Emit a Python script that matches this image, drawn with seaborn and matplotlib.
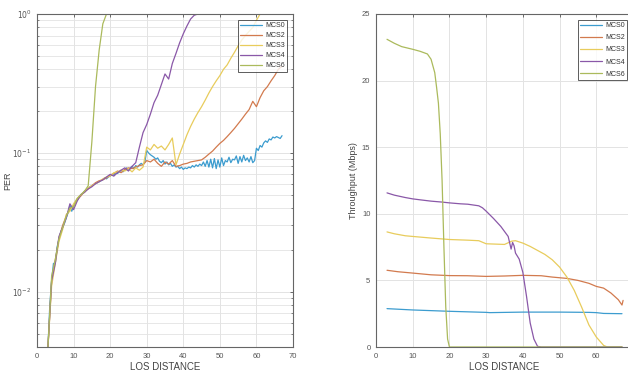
import numpy as np
import pandas as pd
import matplotlib
matplotlib.use("Agg")
import matplotlib.pyplot as plt
import seaborn as sns
from matplotlib.ticker import LogLocator, NullFormatter, FixedLocator

# ---------------- data ----------------
labels = ["MCS0", "MCS2", "MCS3", "MCS4", "MCS6"]
colors = ["#3c9ccf", "#d27a4e", "#e8cc5c", "#8a58a8", "#abba5c"]

# PER (left), MCS0 sampled every 0.5 from 3
per_mcs0 = [0.004, 0.008, 0.012, 0.016, 0.016, 0.021, 0.024, 0.027, 0.029, 0.031,
            0.034, 0.037, 0.042, 0.038, 0.041, 0.044, 0.046, 0.048, 0.050, 0.051,
            0.053, 0.054, 0.056, 0.057, 0.058, 0.059, 0.060, 0.061, 0.062, 0.063,
            0.064, 0.066, 0.065, 0.067, 0.068, 0.070, 0.069, 0.072, 0.071, 0.073,
            0.075, 0.073, 0.076, 0.078, 0.075, 0.078, 0.080, 0.077, 0.081, 0.079,
            0.082, 0.084, 0.082, 0.086, 0.104, 0.100, 0.097, 0.095, 0.093, 0.090,
            0.092, 0.087, 0.085, 0.088, 0.083, 0.086, 0.082, 0.084, 0.080, 0.082,
            0.079, 0.080, 0.077, 0.079, 0.076, 0.078, 0.077, 0.079, 0.078, 0.081,
            0.079, 0.082, 0.080, 0.083, 0.081, 0.086, 0.080, 0.088, 0.079, 0.090,
            0.078, 0.091, 0.077, 0.089, 0.079, 0.092, 0.081, 0.088, 0.086, 0.093,
            0.085, 0.090, 0.089, 0.095, 0.084, 0.094, 0.086, 0.096, 0.088, 0.092,
            0.086, 0.094, 0.085, 0.088, 0.108, 0.104, 0.113, 0.110, 0.118, 0.122,
            0.119, 0.126, 0.124, 0.130, 0.128, 0.131, 0.129, 0.127, 0.133]
# other PER series sampled every 1 from 3 to 67
per_mcs2 = [0.004, 0.012, 0.017, 0.024, 0.030, 0.035, 0.040, 0.041, 0.046, 0.049,
            0.053, 0.055, 0.058, 0.061, 0.063, 0.064, 0.066, 0.069, 0.071, 0.074,
            0.072, 0.076, 0.078, 0.077, 0.079, 0.081, 0.082, 0.088, 0.086, 0.090,
            0.084, 0.080, 0.086, 0.083, 0.088, 0.080, 0.081, 0.083, 0.084, 0.086,
            0.087, 0.088, 0.089, 0.093, 0.098, 0.103, 0.110, 0.117, 0.123, 0.131,
            0.140, 0.150, 0.162, 0.175, 0.190, 0.205, 0.235, 0.215, 0.250, 0.280,
            0.300, 0.330, 0.360, 0.400, 0.420]
per_mcs3 = [0.004, 0.011, 0.016, 0.023, 0.028, 0.036, 0.038, 0.043, 0.047, 0.050,
            0.052, 0.056, 0.058, 0.060, 0.062, 0.065, 0.067, 0.068, 0.072, 0.073,
            0.075, 0.074, 0.077, 0.073, 0.078, 0.075, 0.079, 0.110, 0.105, 0.115,
            0.108, 0.112, 0.105, 0.115, 0.128, 0.082, 0.098, 0.115, 0.135, 0.155,
            0.175, 0.195, 0.215, 0.240, 0.270, 0.300, 0.330, 0.360, 0.400, 0.430,
            0.480, 0.530, 0.590, 0.650, 0.700, 0.750, 0.800, 0.900, 1.0, 1.0,
            1.0, 1.0, 1.0, 1.0, 1.0]
per_mcs4 = [0.004, 0.012, 0.016, 0.025, 0.029, 0.034, 0.043, 0.039, 0.045, 0.050,
            0.052, 0.055, 0.057, 0.060, 0.062, 0.064, 0.067, 0.070, 0.068, 0.072,
            0.075, 0.078, 0.074, 0.080, 0.085, 0.110, 0.140, 0.160, 0.190, 0.230,
            0.260, 0.310, 0.370, 0.340, 0.440, 0.520, 0.620, 0.720, 0.820, 0.920,
            0.980, 1.0, 1.0, 1.0, 1.0, 1.0, 1.0, 1.0, 1.0, 1.0,
            1.0, 1.0, 1.0, 1.0, 1.0, 1.0, 1.0, 1.0, 1.0, 1.0,
            1.0, 1.0, 1.0, 1.0, 1.0]
per_mcs6 = [0.004, 0.013, 0.017, 0.024, 0.029, 0.035, 0.040, 0.041, 0.047, 0.050,
            0.053, 0.058, 0.120, 0.300, 0.550, 0.850, 1.0, 1.0, 1.0, 1.0,
            1.0, 1.0, 1.0, 1.0, 1.0, 1.0, 1.0, 1.0, 1.0, 1.0,
            1.0, 1.0, 1.0, 1.0, 1.0, 1.0, 1.0, 1.0, 1.0, 1.0,
            1.0, 1.0, 1.0, 1.0, 1.0, 1.0, 1.0, 1.0, 1.0, 1.0,
            1.0, 1.0, 1.0, 1.0, 1.0, 1.0, 1.0, 1.0, 1.0, 1.0,
            1.0, 1.0, 1.0, 1.0, 1.0]

# Throughput (right)
thr_x_mcs0 = [3, 10, 20, 30, 31, 40, 50, 58, 60, 62, 67]
thr_mcs0 = [2.88, 2.78, 2.68, 2.60, 2.58, 2.62, 2.62, 2.60, 2.58, 2.52, 2.50]
thr_x_mcs2 = [3, 6, 10, 15, 20, 25, 30, 35, 40, 45, 48, 52, 55, 58, 60, 62, 64, 66, 67, 67.3]
thr_mcs2 = [5.76, 5.65, 5.55, 5.42, 5.36, 5.35, 5.30, 5.33, 5.38, 5.35, 5.25, 5.15,
            5.00, 4.78, 4.55, 4.42, 4.05, 3.55, 3.15, 3.50]
thr_x_mcs3 = [3, 5, 8, 10, 15, 20, 25, 28, 30, 33, 35, 37, 38, 40, 42, 44, 46, 48,
              50, 52, 54, 56, 58, 60, 62, 63, 67]
thr_mcs3 = [8.64, 8.50, 8.35, 8.30, 8.18, 8.07, 8.02, 7.98, 7.75, 7.72, 7.70, 7.95,
            7.98, 7.80, 7.55, 7.25, 6.95, 6.55, 6.00, 5.25, 4.25, 3.00, 1.65, 0.75,
            0.12, 0.0, 0.0]
thr_x_mcs4 = [3, 5, 8, 10, 12, 15, 18, 20, 23, 25, 28, 29, 30, 32, 34, 36, 36.8,
              37.2, 37.6, 38, 39, 40, 41, 42, 43, 44, 45, 67]
thr_mcs4 = [11.57, 11.40, 11.22, 11.12, 11.05, 10.95, 10.88, 10.82, 10.75, 10.72,
            10.60, 10.45, 10.20, 9.65, 9.05, 8.30, 7.35, 7.85, 7.60, 7.05, 6.60,
            5.60, 3.80, 1.80, 0.60, 0.05, 0.0, 0.0]
thr_x_mcs6 = [3, 5, 7, 10, 12, 14, 15, 16, 16.5, 17, 17.5, 18, 18.5, 19, 19.5, 20, 67]
thr_mcs6 = [23.1, 22.8, 22.55, 22.35, 22.2, 22.0, 21.6, 20.6, 19.5, 18.3, 16.0,
            12.5, 7.5, 3.0, 0.6, 0.0, 0.0]

x_ticks = [0, 10, 20, 30, 40, 50, 60, 70]
x_ticklabels_left = ["0", "10", "20", "30", "40", "50", "60", "70"]
x_ticklabels_right = ["0", "10", "20", "30", "40", "50", "60", ""]

# ---------------- plotting ----------------
sns.set_theme(style="whitegrid")
plt.rcParams["font.family"] = ["Liberation Sans", "DejaVu Sans"]

fig = plt.figure(figsize=(6.28, 3.74), dpi=100)
fig.patch.set_facecolor("white")
axL = fig.add_axes([37 / 628, 27 / 374, 256 / 628, 333 / 374])
axR = fig.add_axes([376 / 628, 27 / 374, 257 / 628, 333 / 374])

per_x_half = 3 + 0.5 * np.arange(len(per_mcs0))
per_x_one = 3 + np.arange(len(per_mcs2))
per_sets = [(per_x_half, per_mcs0), (per_x_one, per_mcs2), (per_x_one, per_mcs3),
            (per_x_one, per_mcs4), (per_x_one, per_mcs6)]
thr_sets = [(thr_x_mcs0, thr_mcs0), (thr_x_mcs2, thr_mcs2), (thr_x_mcs3, thr_mcs3),
            (thr_x_mcs4, thr_mcs4), (thr_x_mcs6, thr_mcs6)]

for (x, y), lab, c in zip(per_sets, labels, colors):
    df = pd.DataFrame({"d": x, "v": y})
    sns.lineplot(data=df, x="d", y="v", ax=axL, color=c, linewidth=0.9,
                 label=lab, sort=False, estimator=None)
for (x, y), lab, c in zip(thr_sets, labels, colors):
    df = pd.DataFrame({"d": x, "v": y})
    sns.lineplot(data=df, x="d", y="v", ax=axR, color=c, linewidth=0.9,
                 label=lab, sort=False, estimator=None)

tick_col = "#555555"
grid_col = "#e3e3e3"

axL.set_yscale("log")
axL.set_ylim(0.004, 1)
axL.set_xlim(0, 70)
axL.yaxis.set_major_locator(FixedLocator([0.01, 0.1, 1]))
axL.yaxis.set_minor_locator(LogLocator(base=10, subs=np.arange(2, 10)))
axL.yaxis.set_minor_formatter(NullFormatter())
axL.set_yticklabels([r"$10^{-2}$", r"$10^{-1}$", r"$10^{0}$"])
axL.set_xticks(x_ticks)
axL.set_xticklabels(x_ticklabels_left)
axL.set_ylabel("PER", fontsize=6.5, color="#444444")
axL.yaxis.set_label_coords(-0.095, 0.5)
axL.set_xlabel("LOS DISTANCE", fontsize=7, color="#444444", labelpad=2)
axL.grid(True, which="major", color=grid_col, linewidth=0.7)
axL.grid(True, which="minor", axis="y", color=grid_col, linewidth=0.6)

axR.set_xlim(0, 70)
axR.set_ylim(0, 25)
axR.set_xticks(x_ticks)
axR.set_xticklabels(x_ticklabels_right)
axR.set_yticks(range(0, 26, 5))
axR.set_ylabel("Throughput (Mbps)", fontsize=6.5, color="#444444")
axR.yaxis.set_label_coords(-0.07, 0.5)
axR.set_xlabel("LOS DISTANCE", fontsize=7, color="#444444", labelpad=2)
axR.grid(True, which="major", color=grid_col, linewidth=0.7)

for ax, lsp in ((axL, 0.45), (axR, 0.75)):
    ax.set_facecolor("white")
    for s in ax.spines.values():
        s.set_color("#666666")
        s.set_linewidth(0.8)
        s.set_visible(True)
    ax.tick_params(axis="both", which="major", direction="in", length=2.5,
                   width=0.6, colors=tick_col, labelsize=5.5, top=True, right=True,
                   pad=4)
    ax.tick_params(axis="y", which="minor", direction="in", length=1.5,
                   width=0.5, colors=tick_col, right=True, left=True)
    ax.tick_params(labelcolor="#555555")
    leg = ax.legend(loc="upper right", fontsize=5, frameon=True, fancybox=False,
                    edgecolor="#333333", handlelength=3.2, borderpad=0.35,
                    labelspacing=lsp, handletextpad=0.4, borderaxespad=0.8)
    leg.get_frame().set_linewidth(0.7)
    for t in leg.get_texts():
        t.set_color("#333333")

fig.savefig("out.png", dpi=100, facecolor="white")
